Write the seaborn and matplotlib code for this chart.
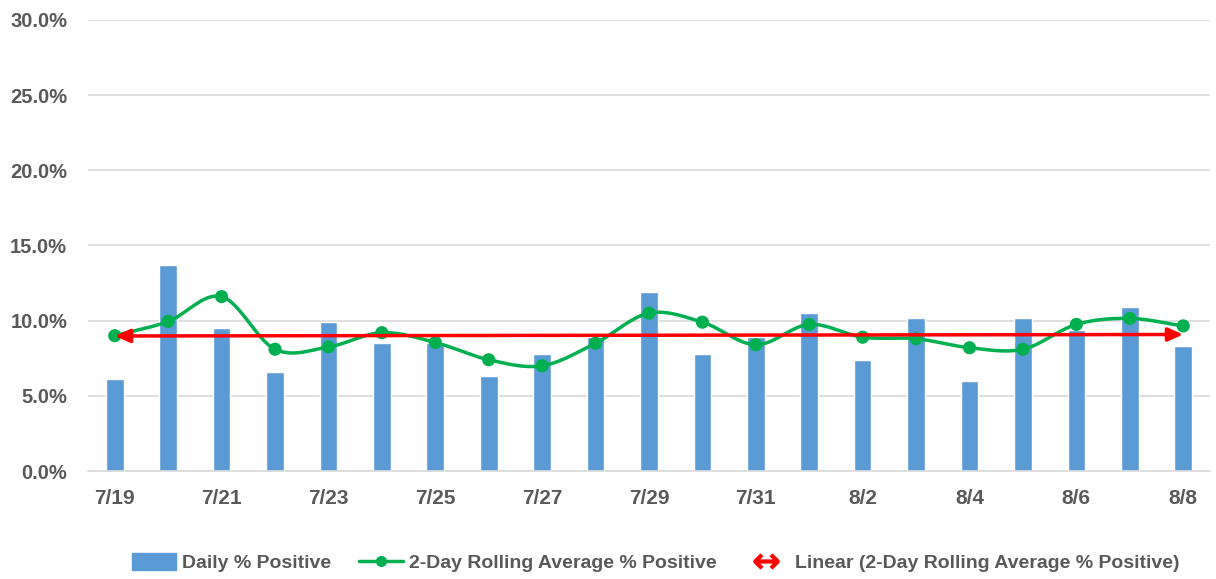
import numpy as np
import pandas as pd
import matplotlib
matplotlib.use("Agg")
import matplotlib.pyplot as plt
from matplotlib.lines import Line2D
from matplotlib.patches import Patch
import seaborn as sns

# data (percent)
dates = ['7/19', '7/20', '7/21', '7/22', '7/23', '7/24', '7/25', '7/26', '7/27', '7/28', '7/29',
         '7/30', '7/31', '8/1', '8/2', '8/3', '8/4', '8/5', '8/6', '8/7', '8/8']
daily_pct = [6.1, 13.7, 9.5, 6.6, 9.9, 8.5, 8.5, 6.3, 7.8, 8.9, 11.9,
             7.8, 8.9, 10.5, 7.4, 10.2, 6.0, 10.2, 9.35, 10.9, 8.3]
rolling_pct = [9.0, 9.95, 11.6, 8.1, 8.25, 9.2, 8.55, 7.4, 7.0, 8.5, 10.5,
               9.9, 8.4, 9.75, 8.9, 8.8, 8.2, 8.1, 9.75, 10.15, 9.65]

df = pd.DataFrame({'date': dates, 'daily': daily_pct, 'rolling': rolling_pct})
df['pos'] = np.arange(len(df))

blue = '#5B9BD5'
green = '#00B050'
red = '#FF0000'
txt = '#595959'
grid = '#D9D9D9'

sns.set_style('white')
plt.rcParams['font.family'] = ['Liberation Sans', 'DejaVu Sans']

fig = plt.figure(figsize=(12.16, 5.79), dpi=100)
ax = fig.add_axes([0.0724, 0.1865, 0.9226, 0.779])

sns.barplot(data=df, x='date', y='daily', color=blue, width=0.33, saturation=1, ax=ax, zorder=2)


# smooth curve like excel's smoothed line (catmull-rom through the points)
def smooth(xs, ys, n=20):
    xs = np.asarray(xs, float)
    ys = np.asarray(ys, float)
    px = np.concatenate([[2 * xs[0] - xs[1]], xs, [2 * xs[-1] - xs[-2]]])
    py = np.concatenate([[2 * ys[0] - ys[1]], ys, [2 * ys[-1] - ys[-2]]])
    outx, outy = [], []
    for i in range(1, len(px) - 2):
        t = np.linspace(0, 1, n, endpoint=False)
        for p, out in ((px, outx), (py, outy)):
            p0, p1, p2, p3 = p[i - 1], p[i], p[i + 1], p[i + 2]
            out.extend(0.5 * (2 * p1 + (-p0 + p2) * t + (2 * p0 - 5 * p1 + 4 * p2 - p3) * t ** 2
                              + (-p0 + 3 * p1 - 3 * p2 + p3) * t ** 3))
    outx.append(xs[-1])
    outy.append(ys[-1])
    return outx, outy


sx, sy = smooth(df['pos'], df['rolling'])
ax.plot(sx, sy, color=green, lw=2.5, zorder=3)
sns.scatterplot(data=df, x='pos', y='rolling', color=green, s=90, edgecolor='none', ax=ax, zorder=4)

# linear trend of the rolling average
k, b = np.polyfit(df['pos'], df['rolling'], 1)
ax.annotate('', xy=(df['pos'].iloc[-1], k * df['pos'].iloc[-1] + b),
            xytext=(df['pos'].iloc[0], k * df['pos'].iloc[0] + b),
            arrowprops=dict(arrowstyle='<|-|>,head_length=0.9,head_width=0.4', color=red, lw=2.5,
                            shrinkA=0, shrinkB=0), zorder=5)

ax.set_xlim(-0.5, len(df) - 0.5)
ax.set_ylim(0, 30)
ax.set_yticks(np.arange(0, 31, 5))
ax.set_yticklabels(['%.1f%%' % v for v in np.arange(0, 31, 5)])
ax.set_xticks(df['pos'][::2])
ax.set_xticklabels(df['date'][::2])
ax.set_xticks(np.arange(-0.5, len(df), 1), minor=True)
ax.set_xlabel('')
ax.set_ylabel('')

ax.grid(axis='y', color=grid, lw=1.2, zorder=0)
ax.set_axisbelow(True)
for s in ['top', 'right', 'left']:
    ax.spines[s].set_visible(False)
ax.spines['bottom'].set_color(grid)
ax.spines['bottom'].set_linewidth(1.2)
ax.tick_params(axis='x', which='major', length=0, pad=13, labelsize=15, labelcolor=txt)
ax.tick_params(axis='x', which='minor', length=6, color=grid, width=1.2)
ax.tick_params(axis='y', length=0, pad=15, labelsize=14.5, labelcolor=txt)
for lab in ax.get_xticklabels() + ax.get_yticklabels():
    lab.set_fontweight('bold')

handles = [Patch(color=blue),
           Line2D([], [], color=green, lw=2.5, marker='o', markersize=7),
           Line2D([], [], color=red, lw=0, marker=r'$\leftrightarrow$', markersize=18)]
labels = ['Daily % Positive', '2-Day Rolling Average % Positive',
          'Linear (2-Day Rolling Average % Positive)']
fig.legend(handles, labels, loc='center', bbox_to_anchor=(0.539, 0.028), ncol=3, frameon=False,
           prop={'size': 14, 'weight': 'bold'}, labelcolor=txt, handlelength=2.3,
           handleheight=0.9, handletextpad=0.3, columnspacing=1.4)

fig.savefig('out.png', dpi=100)
